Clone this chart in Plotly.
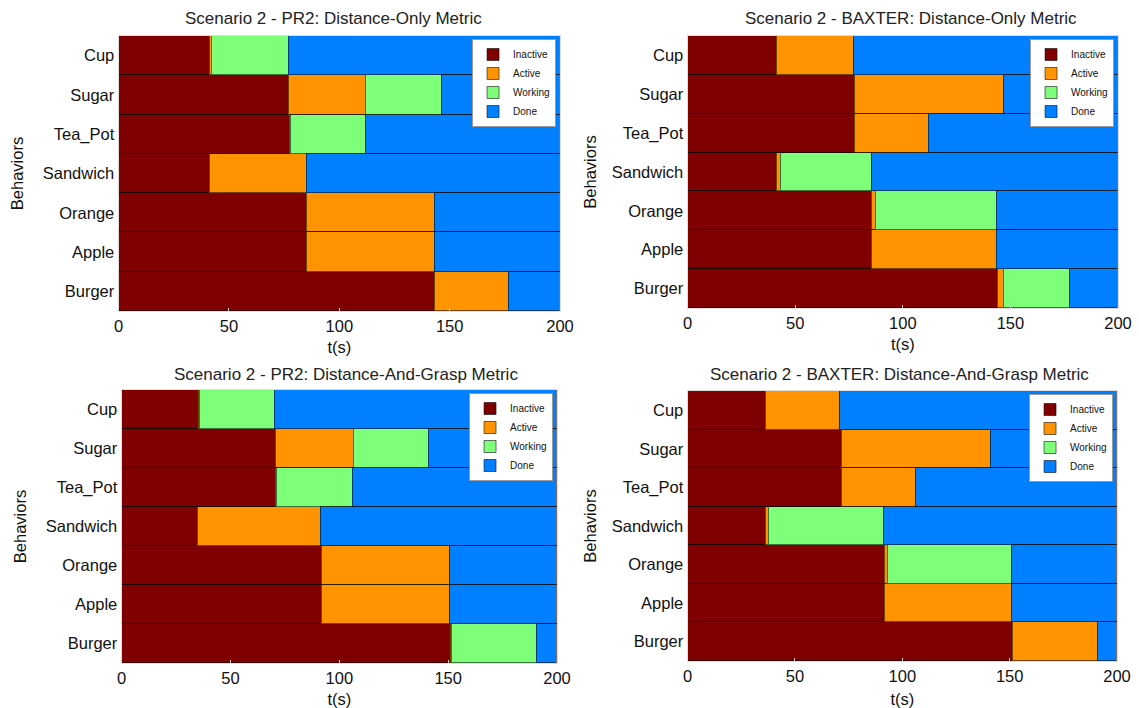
import plotly.graph_objects as go

# Behaviours listed top to bottom
behaviors = ["Cup", "Sugar", "Tea_Pot", "Sandwich", "Orange", "Apple", "Burger"]
t_end = 200

states = ["Inactive", "Active", "Working", "Done"]
state_colors = ["#7f0000", "#ff9400", "#7dff7a", "#0080ff"]

titles = [
    "Scenario 2 - PR2: Distance-Only Metric",
    "Scenario 2 - BAXTER: Distance-Only Metric",
    "Scenario 2 - PR2: Distance-And-Grasp Metric",
    "Scenario 2 - BAXTER: Distance-And-Grasp Metric",
]

# Times (s) at which each behaviour leaves a state
pr2_dist_inactive_end = [41.4, 77.2, 77.5, 41.3, 85.4, 85.4, 143.2]
pr2_dist_active_end = [42.2, 112.0, 77.9, 85.1, 143.2, 143.2, 176.7]
pr2_dist_working_end = [76.8, 146.5, 111.7, 85.1, 143.2, 143.2, 176.7]

baxter_dist_inactive_end = [41.5, 77.6, 77.6, 41.5, 85.5, 85.6, 143.8]
baxter_dist_active_end = [77.0, 146.9, 112.2, 43.4, 87.2, 143.7, 146.9]
baxter_dist_working_end = [77.0, 146.9, 112.2, 85.3, 143.7, 143.7, 177.5]

pr2_grasp_inactive_end = [35.2, 70.6, 70.9, 35.1, 91.7, 91.7, 151.3]
pr2_grasp_active_end = [35.7, 106.5, 71.2, 91.5, 150.8, 150.8, 151.6]
pr2_grasp_working_end = [70.3, 140.9, 106.0, 91.5, 150.8, 150.8, 190.7]

baxter_grasp_inactive_end = [36.2, 71.5, 71.9, 36.2, 91.6, 91.8, 151.5]
baxter_grasp_active_end = [70.6, 141.1, 106.3, 37.7, 93.3, 151.1, 190.7]
baxter_grasp_working_end = [70.6, 141.1, 106.3, 91.3, 151.1, 151.1, 190.7]

scenarios = [
    (pr2_dist_inactive_end, pr2_dist_active_end, pr2_dist_working_end),
    (baxter_dist_inactive_end, baxter_dist_active_end, baxter_dist_working_end),
    (pr2_grasp_inactive_end, pr2_grasp_active_end, pr2_grasp_working_end),
    (baxter_grasp_inactive_end, baxter_grasp_active_end, baxter_grasp_working_end),
]

# Panel boxes in pixels (left, right, top, bottom) on the page
PAGE_W, PAGE_H = 1124, 708
panels_px = [
    (114, 557, 36, 311),
    (685, 1117, 36, 308),
    (117, 554, 390, 663),
    (685, 1116, 391, 661),
]
title_px = [(330, 18), (909, 18), (342, 374), (898, 374)]
ytitle_standoff = [14, 10, 14, 10]
xtitle_standoff = [7, 7, 10, 10]

fig = go.Figure()
font_family = "Liberation Sans, Arial, sans-serif"
text_color = "#111111"

for i, (inact, act, work) in enumerate(scenarios):
    n = i + 1
    durations = [
        inact,
        [a - b for a, b in zip(act, inact)],
        [w - a for w, a in zip(work, act)],
        [t_end - w for w in work],
    ]
    xa = "x" if n == 1 else f"x{n}"
    ya = "y" if n == 1 else f"y{n}"
    lg = "legend" if n == 1 else f"legend{n}"
    for s, name in enumerate(states):
        fig.add_trace(go.Bar(
            y=behaviors, x=durations[s], orientation="h", name=name,
            marker=dict(color=state_colors[s],
                        line=dict(color="rgba(0,0,0,0.55)", width=1)),
            xaxis=xa, yaxis=ya, legend=lg, showlegend=True,
        ))
    left, right, top, bottom = panels_px[i]
    x0, x1 = left / PAGE_W, right / PAGE_W
    y0, y1 = 1 - bottom / PAGE_H, 1 - top / PAGE_H
    xk = "xaxis" if n == 1 else f"xaxis{n}"
    yk = "yaxis" if n == 1 else f"yaxis{n}"
    fig.layout[xk] = dict(
        domain=[x0, x1], anchor=ya, range=[0, t_end],
        tickvals=[0, 50, 100, 150, 200], ticks="inside", ticklen=3,
        tickcolor="#cccccc", showgrid=False, zeroline=False,
        showline=True, linecolor="#dddddd", mirror=True,
        tickfont=dict(size=16.5, color=text_color, family=font_family),
        title=dict(text="t(s)", standoff=xtitle_standoff[i],
                   font=dict(size=16.5, color=text_color, family=font_family)),
    )
    fig.layout[yk] = dict(
        domain=[y0, y1], anchor=xa, autorange="reversed",
        categoryorder="array", categoryarray=behaviors,
        showgrid=False, zeroline=False, ticks="",
        showline=True, linecolor="#dddddd", mirror=True,
        tickfont=dict(size=16.5, color=text_color, family=font_family),
        title=dict(text="Behaviors", standoff=ytitle_standoff[i],
                   font=dict(size=16.5, color=text_color, family=font_family)),
    )
    fig.layout[lg] = dict(
        x=(right - 4) / PAGE_W, y=1 - (top + 3) / PAGE_H,
        xanchor="right", yanchor="top",
        traceorder="normal", bgcolor="white", bordercolor="#999999",
        borderwidth=1, font=dict(size=10, color=text_color, family=font_family),
        tracegroupgap=0, itemwidth=30,
    )
    tx, ty = title_px[i]
    fig.add_annotation(
        text=titles[i], x=tx / PAGE_W, y=1 - ty / PAGE_H,
        xref="paper", yref="paper", xanchor="center", yanchor="middle",
        showarrow=False, font=dict(size=17, color="#222222", family=font_family),
    )

fig.update_layout(
    autosize=True, barmode="stack", bargap=0,
    margin=dict(l=0, r=0, t=0, b=0),
    plot_bgcolor="white", paper_bgcolor="white",
)

fig.write_html("out.html", config={"responsive": True})
